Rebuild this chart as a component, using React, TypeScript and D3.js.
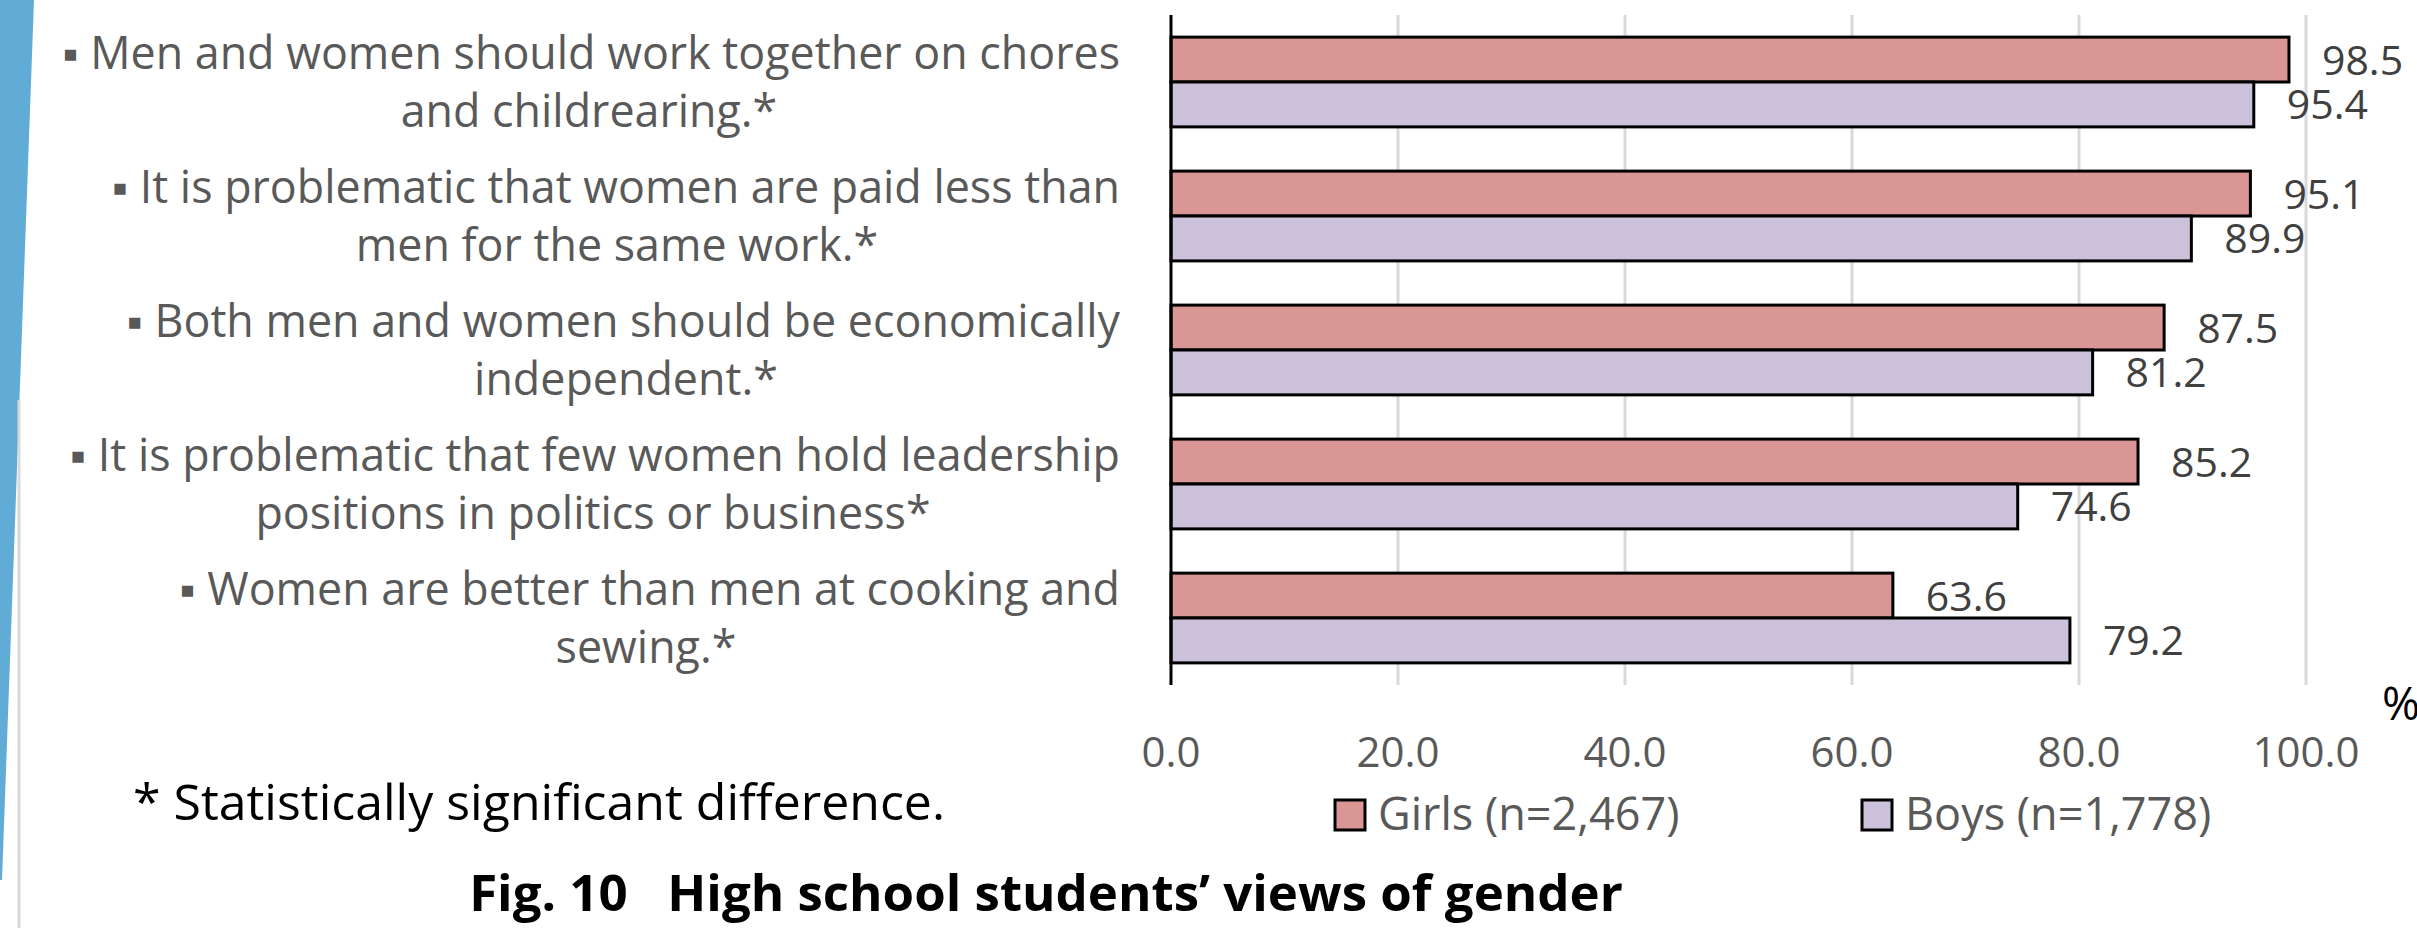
import React from "react";
import * as d3 from "d3";

const categories = [
  "Men and women should work together on chores and childrearing.*",
  "It is problematic that women are paid less than men for the same work.*",
  "Both men and women should be economically independent.*",
  "It is problematic that few women hold leadership positions in politics or business*",
  "Women are better than men at cooking and sewing.*",
];
const labelLine1 = [
  "▪ Men and women should work together on chores",
  "▪ It is problematic that women are paid less than",
  "▪ Both men and women should be economically",
  "▪ It is problematic that few women hold leadership",
  "▪ Women are better than men at cooking and",
];
const labelLine2 = [
  "and childrearing.*",
  "men for the same work.*",
  "independent.*",
  "positions in politics or business*",
  "sewing.*",
];
const girls = [98.5, 95.1, 87.5, 85.2, 63.6];
const boys = [95.4, 89.9, 81.2, 74.6, 79.2];
const ticks = [0, 20, 40, 60, 80, 100];
const seriesNames = ["Girls (n=2,467)", "Boys (n=1,778)"];

// layout (not data)
const line2Center = [589, 617, 626, 593, 646];
const W = 2417;
const H = 928;
const FONT = "'Open Sans', 'Noto Sans', sans-serif";
const COLORS = ["#D99694", "#CCC1DA"];

export default function App() {
  const x = d3.scaleLinear().domain([0, 100]).range([1171, 2306]);
  const y = d3
    .scaleBand<string>()
    .domain(categories)
    .range([15, 685])
    .paddingInner(0.33)
    .paddingOuter(0.165);
  const sub = d3
    .scaleBand<number>()
    .domain([0, 1])
    .range([0, y.bandwidth()]);
  const series = [girls, boys];

  return (
    <div style={{ position: "absolute", left: 0, top: 0 }}>
      <svg width={W} height={H} style={{ display: "block" }}>
        <rect x={0} y={0} width={W} height={H} fill="#fff" />
        {/* decorative left shape */}
        <polygon points={`0,0 34,0 2,880 0,880`} fill="#61ABD7" />
        <line x1={19} x2={19} y1={400} y2={H} stroke="#D9D9D9" strokeWidth={3} />

        {/* gridlines */}
        {ticks
          .filter((t) => t > 0)
          .map((t) => (
            <line
              key={t}
              x1={x(t)}
              x2={x(t)}
              y1={15}
              y2={685}
              stroke="#D9D9D9"
              strokeWidth={3}
            />
          ))}

        {/* bars */}
        {categories.map((c, i) =>
          series.map((s, j) => (
            <rect
              key={c + j}
              x={x(0)}
              y={(y(c) as number) + (sub(j) as number)}
              width={x(s[i]) - x(0)}
              height={sub.bandwidth()}
              fill={COLORS[j]}
              stroke="#000"
              strokeWidth={3}
            />
          ))
        )}

        {/* axis line */}
        <line x1={x(0)} x2={x(0)} y1={15} y2={685} stroke="#000" strokeWidth={3} />

        {/* value labels */}
        {categories.map((c, i) =>
          series.map((s, j) => (
            <text
              key={"v" + c + j}
              x={x(s[i]) + 33}
              y={(y(c) as number) + (sub(j) as number) + sub.bandwidth() / 2 + 15}
              fontFamily={FONT}
              fontSize={41}
              fill="#404040"
            >
              {s[i].toFixed(1)}
            </text>
          ))
        )}

        {/* tick labels */}
        {ticks.map((t) => (
          <text
            key={"t" + t}
            x={x(t)}
            y={767}
            textAnchor="middle"
            fontFamily={FONT}
            fontSize={42}
            fill="#595959"
          >
            {t.toFixed(1)}
          </text>
        ))}
        <text x={2382} y={720} fontFamily={FONT} fontSize={46} fill="#000">
          %
        </text>

        {/* category labels */}
        {categories.map((c, i) => {
          const cy = (y(c) as number) + y.bandwidth() / 2;
          return (
            <g key={"c" + i} fontFamily={FONT} fontSize={44.8} fill="#595959">
              <text x={1120} y={cy - 29 + 16} textAnchor="end">
                {labelLine1[i]}
              </text>
              <text x={line2Center[i]} y={cy + 29 + 16} textAnchor="middle">
                {labelLine2[i]}
              </text>
            </g>
          );
        })}

        {/* legend */}
        {seriesNames.map((n, j) => {
          const lx = [1335, 1862][j];
          return (
            <g key={"l" + j}>
              <rect x={lx} y={800} width={30} height={30} fill={COLORS[j]} stroke="#000" strokeWidth={3} />
              <text x={lx + 43} y={830} fontFamily={FONT} fontSize={45} fill="#595959">
                {n}
              </text>
            </g>
          );
        })}

        {/* footnote */}
        <text x={133} y={820} fontFamily={FONT} fontSize={50} fill="#000">
          * Statistically significant difference.
        </text>

        {/* title */}
        <text
          x={1046}
          y={911}
          textAnchor="middle"
          fontFamily={FONT}
          fontSize={51}
          fontWeight="bold"
          fill="#000"
          style={{ whiteSpace: "pre" }}
        >
          {"Fig. 10   High school students’ views of gender"}
        </text>
      </svg>
    </div>
  );
}
